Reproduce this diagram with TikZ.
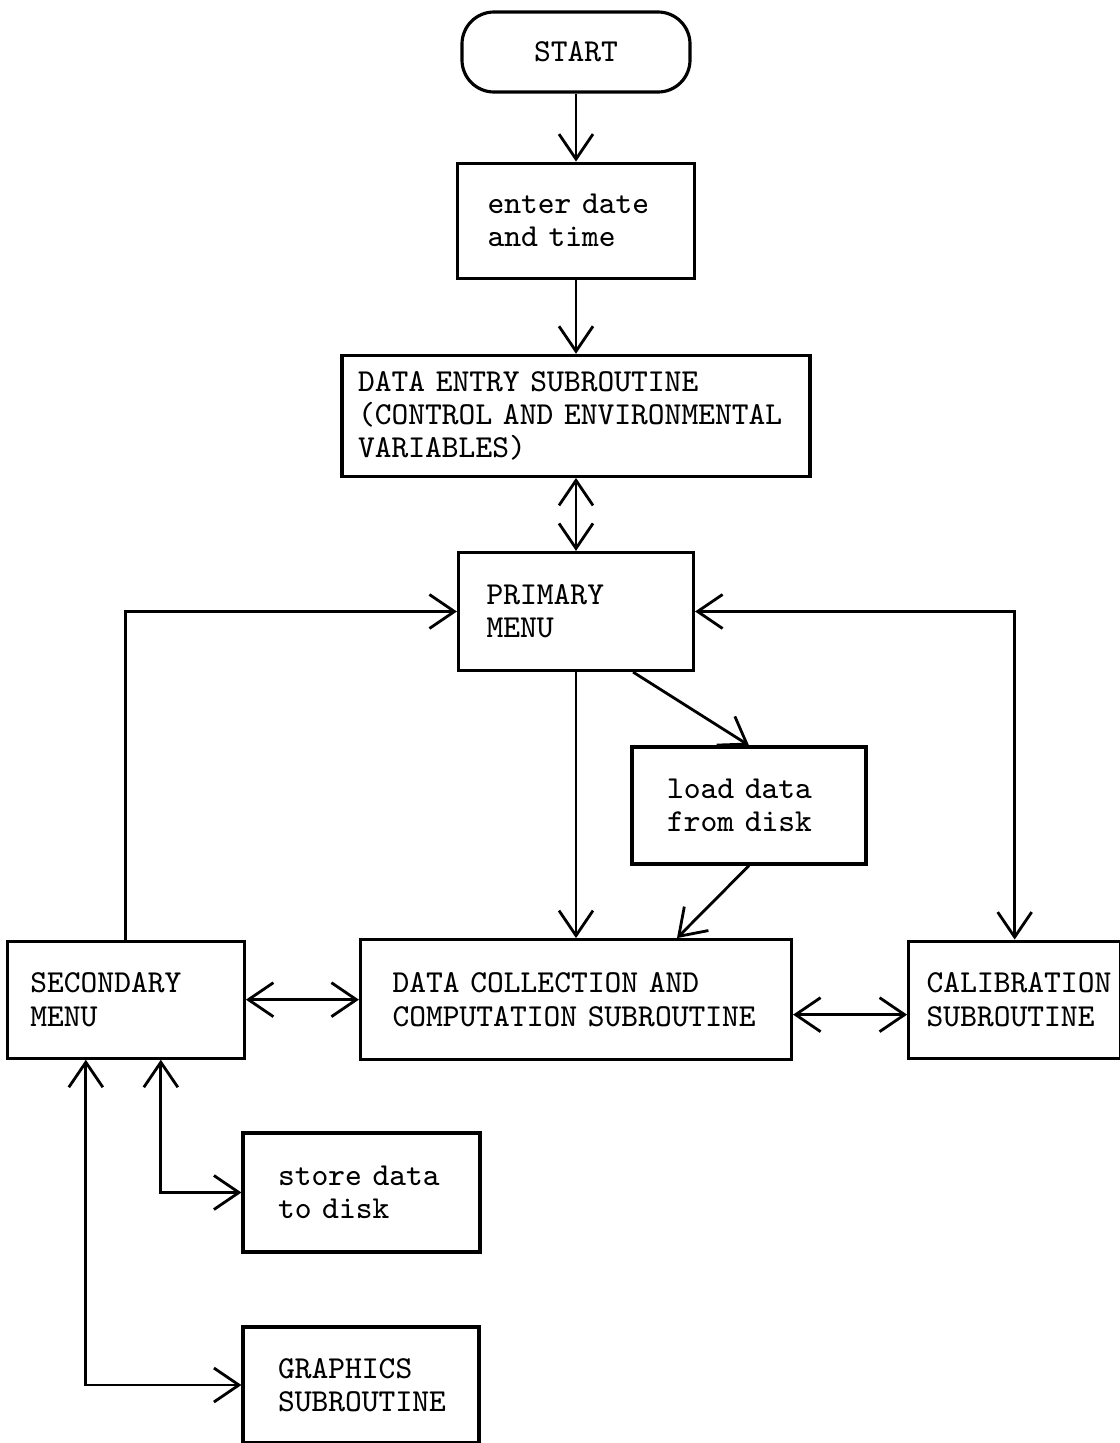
\documentclass[tikz,border=0pt]{standalone}
\usetikzlibrary{positioning, arrows.meta, calc}

\begin{document}
\begin{tikzpicture}[
	font=\ttfamily\fontsize{9.1}{9.4}\selectfont,
	% Connector style
	>={Straight Barb[length=0.25cm, width=0.34cm]},
	flow/.style={line width=0.8pt},
	% Box styles
	terminal/.style={draw, line width=0.9pt, rounded corners=0.32cm, minimum width=2.28cm, minimum height=0.8cm},
	blk/.style={draw, line width=0.9pt, align=left, inner ysep=0pt, minimum height=1.17cm}
	]
	\useasboundingbox (0,0) rectangle (11.19,-14.43);
	
	% ==============================================================================
	% MAIN COLUMN
	% ==============================================================================
	\node[terminal] (start) at (5.76,-0.52) {START};
	\node[blk, below=0.68cm of start, text width=1.77cm, inner xsep=0.30cm, minimum height=1.15cm] (datetime) {enter date\\and time};
	\node[blk, below=0.74cm of datetime, text width=4.36cm, inner xsep=0.16cm, minimum height=1.21cm] (entry) {DATA ENTRY SUBROUTINE\\(CONTROL AND ENVIRONMENTAL\\VARIABLES)};
	\node[blk, below=0.73cm of entry, text width=1.79cm, inner xsep=0.28cm, minimum height=1.18cm] (primary) {PRIMARY\\MENU};
	\node[blk, below=2.66cm of primary, text width=3.67cm, inner xsep=0.32cm, minimum height=1.20cm] (collect) {DATA COLLECTION AND\\COMPUTATION SUBROUTINE};
	
	% side boxes
	\node[blk, text width=1.64cm, inner xsep=0.35cm] (load) at (7.49,-8.055) {load data\\from disk};
	\node[blk, left=1.13cm of collect, text width=1.91cm, inner xsep=0.23cm] (secondary) {SECONDARY\\MENU};
	\node[blk, right=1.14cm of collect, text width=1.76cm, inner xsep=0.18cm] (calib) {CALIBRATION\\SUBROUTINE};
	\node[blk, text width=1.67cm, inner xsep=0.35cm, minimum height=1.19cm] (store) at (3.615,-11.925) {store data\\to disk};
	\node[blk, text width=1.66cm, inner xsep=0.35cm, minimum height=1.16cm] (graphics) at (3.61,-13.85) {GRAPHICS\\SUBROUTINE};
	
	% ==============================================================================
	% CONNECTORS
	% ==============================================================================
	\draw[flow, ->] (start) -- (datetime);
	\draw[flow, ->] (datetime) -- (entry);
	\draw[flow, <->] (entry) -- (primary);
	\draw[flow, ->] (primary) -- (collect);
	\draw[flow, ->] ([xshift=-0.62cm]primary.south east) -- (load.north);
	\draw[flow, ->] (load.south) -- ([xshift=1.01cm]collect.north);
	
	% loops back to the primary menu
	\draw[flow, ->] (secondary.north) |- (primary.west);
	\draw[flow, <->] (calib.north) |- (primary.east);
	
	% bottom row
	\draw[flow, <->] (secondary) -- (collect);
	\draw[flow, <->] ([yshift=-0.15cm]collect.east) -- ([yshift=-0.15cm]calib.west);
	\draw[flow, <->] ([xshift=0.35cm]secondary.south) |- (store.west);
	\draw[flow, <->] ([xshift=-0.40cm]secondary.south) |- (graphics.west);
	
\end{tikzpicture}
\end{document}
